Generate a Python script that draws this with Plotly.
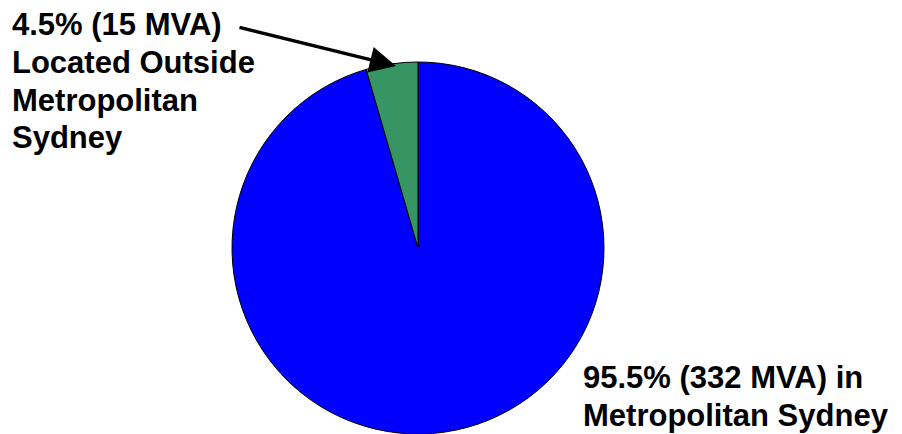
import plotly.graph_objects as go

# drawn clockwise from 12 o'clock: the large slice first, the small one ends at 12 o'clock
categories = ["in Metropolitan Sydney", "Located Outside Metropolitan Sydney"]
shares_pct = [95.5, 4.5]
mva = [332, 15]
colors = ["#0000ff", "#379463"]

W, H = 902, 434
cx, cy, r = 418, 248, 186

fig = go.Figure(go.Pie(
    labels=categories,
    values=shares_pct,
    sort=False,
    direction="clockwise",
    rotation=0,
    marker=dict(colors=colors, line=dict(color="black", width=1)),
    textinfo="none",
    hoverinfo="label+percent",
    showlegend=False,
    domain=dict(x=[(cx - r) / W, (cx + r) / W], y=[1 - (cy + r) / H, 1 - (cy - r) / H]),
))

font = dict(family="Liberation Sans, Arial, sans-serif", size=31, color="black")

left_lines = [f"{shares_pct[1]}% ({mva[1]} MVA)", "Located Outside", "Metropolitan", "Sydney"]
right_lines = [f"{shares_pct[0]}% ({mva[0]} MVA) in", "Metropolitan Sydney"]

left_mid = [24.5, 62.5, 100, 137.5]
right_mid = [377, 415]

annotations = []
for txt, ym in zip(left_lines, left_mid):
    annotations.append(dict(text=f"<b>{txt}</b>", x=10 / W, y=1 - ym / H, xref="paper", yref="paper",
                            xanchor="left", yanchor="middle", align="left", showarrow=False, font=font))
for txt, ym in zip(right_lines, right_mid):
    annotations.append(dict(text=f"<b>{txt}</b>", x=581 / W, y=1 - ym / H, xref="paper", yref="paper",
                            xanchor="left", yanchor="middle", align="left", showarrow=False, font=font))
annotations.append(dict(text="", x=396 / W, y=1 - 66 / H, xref="paper", yref="paper",
                        ax=238 - 396, ay=27 - 66, showarrow=True, arrowhead=2, arrowsize=1.5,
                        arrowwidth=3.5, arrowcolor="black", standoff=0))

fig.update_layout(
    width=W, height=H,
    margin=dict(l=0, r=0, t=0, b=0),
    paper_bgcolor="white", plot_bgcolor="white",
    annotations=annotations,
)

fig.write_html("out.html")
